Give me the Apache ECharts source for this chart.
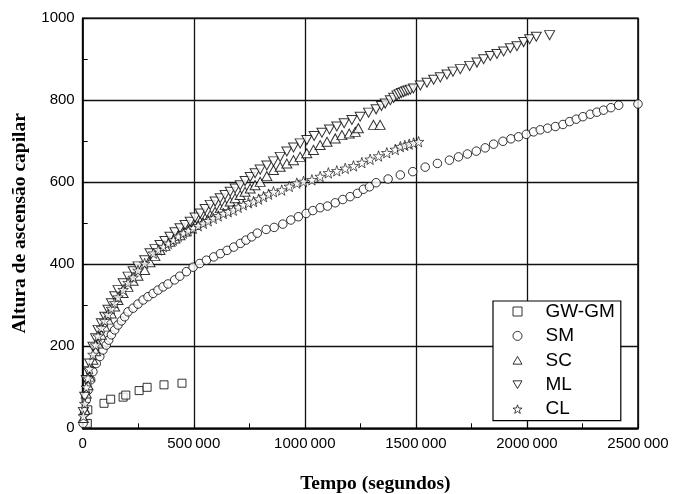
<!DOCTYPE html>
<html>
<head>
<meta charset="utf-8">
<script src="https://cdn.jsdelivr.net/npm/echarts@6/dist/echarts.min.js"></script>
<style>
html,body{margin:0;padding:0;background:#fff;}
#chart{width:673px;height:494px;}
</style>
</head>
<body>
<div id="chart"></div>
<script>
// ---- data: [tempo (s), altura] ----
const seriesNames = ['GW-GM', 'SM', 'SC', 'ML', 'CL'];
const xTicks = [0, 500000, 1000000, 1500000, 2000000, 2500000];
const yTicks = [0, 200, 400, 600, 800, 1000];

const gwgm = [[15000,10],[21000,12],[23000,45],[96000,61],[126000,71],[182000,76],[194000,81],[254000,92],[290000,100],[366000,106],[447000,110]];

const sm = [[2000,12],[9000,37],[16000,69],[24000,93],[36000,118],[46000,138],[61000,158],[77000,175],[91000,191],[106000,203],[117000,215],[129000,228],[144000,240],[159000,252],[174000,262],[189000,272],[204000,284],[227000,293],[249000,303],[272000,313],[294000,321],[317000,329],[339000,337],[362000,345],[384000,352],[414000,362],[437000,371],[467000,382],[497000,393],[527000,402],[557000,410],[590000,418],[620000,426],[650000,434],[680000,442],[710000,451],[735000,459],[761000,467],[786000,476],[826000,485],[862000,490],[901000,498],[937000,508],[971000,516],[1006000,524],[1036000,531],[1069000,538],[1102000,542],[1137000,550],[1171000,558],[1204000,565],[1237000,573],[1264000,583],[1291000,589],[1321000,599],[1375000,608],[1430000,618],[1486000,626],[1542000,637],[1597000,646],[1651000,654],[1692000,662],[1732000,669],[1772000,676],[1812000,684],[1850000,693],[1892000,700],[1928000,706],[1962000,711],[1997000,717],[2030000,723],[2060000,728],[2093000,732],[2128000,736],[2162000,741],[2192000,748],[2222000,754],[2252000,760],[2285000,766],[2315000,771],[2345000,776],[2378000,782],[2413000,788],[2500000,791]];

const sc = [[3000,25],[9000,45],[16000,85],[24000,105],[31000,126],[46000,167],[58000,188],[69000,207],[84000,228],[99000,248],[114000,265],[129000,280],[144000,297],[159000,313],[182000,330],[204000,345],[227000,360],[249000,372],[279000,386],[303000,405],[325000,420],[348000,435],[370000,445],[393000,455],[415000,463],[438000,471],[461000,480],[484000,488],[506000,496],[529000,504],[551000,512],[574000,520],[596000,528],[619000,537],[641000,545],[664000,553],[686000,561],[709000,569],[731000,577],[754000,585],[776000,593],[799000,601],[829000,615],[859000,630],[889000,638],[919000,646],[949000,654],[979000,662],[1009000,671],[1039000,679],[1069000,691],[1100000,699],[1137000,707],[1167000,715],[1200000,719],[1227000,723],[1241000,732],[1309000,740],[1339000,740]];

const ml = [[3000,40],[9000,77],[16000,118],[24000,140],[31000,158],[46000,199],[58000,220],[69000,240],[84000,256],[99000,272],[114000,289],[129000,305],[144000,322],[159000,337],[182000,354],[204000,370],[227000,383],[249000,395],[279000,410],[303000,427],[325000,437],[348000,447],[370000,457],[393000,467],[415000,478],[438000,488],[461000,496],[484000,504],[506000,514],[529000,524],[551000,535],[574000,545],[596000,553],[619000,561],[641000,569],[664000,577],[686000,585],[709000,593],[731000,603],[754000,613],[776000,622],[799000,631],[829000,641],[859000,651],[889000,662],[919000,675],[949000,685],[979000,695],[1009000,703],[1042000,713],[1077000,721],[1111000,729],[1144000,736],[1177000,744],[1212000,752],[1249000,760],[1287000,770],[1321000,778],[1345000,786],[1362000,792],[1385000,800],[1400000,806],[1415000,812],[1425000,815],[1435000,818],[1445000,820],[1455000,822],[1465000,824],[1475000,826],[1489000,829],[1520000,836],[1550000,843],[1580000,850],[1610000,856],[1640000,863],[1667000,870],[1700000,876],[1742000,884],[1775000,892],[1805000,900],[1835000,908],[1865000,913],[1895000,919],[1925000,927],[1955000,932],[1985000,942],[2012000,949],[2042000,955],[2102000,959]];

const cl = [[3000,30],[9000,60],[16000,100],[24000,122],[31000,145],[46000,180],[58000,203],[69000,225],[84000,245],[99000,262],[114000,278],[129000,292],[144000,306],[159000,320],[182000,338],[204000,355],[227000,368],[249000,385],[279000,402],[318000,427],[340000,435],[363000,443],[385000,451],[408000,459],[430000,468],[453000,476],[475000,482],[498000,488],[520000,494],[543000,500],[565000,506],[588000,512],[610000,518],[633000,524],[655000,528],[678000,532],[700000,539],[723000,545],[746000,550],[769000,553],[792000,559],[814000,565],[837000,571],[859000,577],[896000,581],[930000,590],[964000,598],[994000,602],[1032000,606],[1069000,614],[1106000,623],[1144000,628],[1182000,634],[1219000,640],[1257000,648],[1294000,656],[1332000,664],[1369000,672],[1407000,680],[1430000,687],[1450000,690],[1470000,693],[1490000,696],[1512000,699]];

// ---- rendering ----
const STAR = 'path://M0,-10L2.35,-3.24L9.51,-3.09L3.8,1.24L5.88,8.09L0,4L-5.88,8.09L-3.8,1.24L-9.51,-3.09L-2.35,-3.24Z';
const TRI_DOWN = 'path://M-5,-4.3L5,-4.3L0,4.3Z';
const TRI_UP = 'path://M-5,4.3L5,4.3L0,-4.3Z';
const markerStyle = {color: '#fff', borderColor: '#000', borderWidth: 1};
const legendIconStyle = {color: '#fff', borderColor: '#000', borderWidth: 1};

function mk(name, data, symbol, size) {
  return {
    name: name, type: 'scatter', data: data,
    symbol: symbol, symbolSize: size,
    itemStyle: markerStyle, animation: false
  };
}

const chart = echarts.init(document.getElementById('chart'));
const axisFont = {fontFamily: 'Liberation Sans', fontSize: 15, color: '#000'};
const titleFont = {fontFamily: 'Liberation Serif', fontWeight: 'bold', fontSize: 19.5, color: '#000'};

chart.setOption({
  backgroundColor: '#fff',
  animation: false,
  grid: {left: 82.7, right: 35, top: 18.3, bottom: 65.7, show: true, borderColor: '#000', borderWidth: 1.5, containLabel: false, outerBoundsMode: 'none'},
  xAxis: {
    type: 'value', min: xTicks[0], max: xTicks[xTicks.length - 1], interval: 500000,
    name: 'Tempo (segundos)', nameLocation: 'middle', nameGap: 46, nameTextStyle: Object.assign({padding: [0, 0, 0, 30]}, titleFont),
    axisLine: {show: true, lineStyle: {color: '#000', width: 1.5}},
    axisTick: {show: true, inside: true, length: 5, lineStyle: {color: '#000'}},
    minorTick: {show: true, splitNumber: 2, length: 5, lineStyle: {color: '#000', width: 1}},
    splitLine: {show: true, lineStyle: {color: '#111', width: 1.3}},
    axisLabel: Object.assign({margin: 8, formatter: function (v) {
      const s = String(v);
      return s.length > 3 ? s.slice(0, s.length - 3) + '\u2009' + s.slice(s.length - 3) : s;
    }}, axisFont)
  },
  yAxis: {
    type: 'value', min: yTicks[0], max: yTicks[yTicks.length - 1], interval: 200,
    name: 'Altura de ascensão capilar', nameLocation: 'middle', nameGap: 49, nameTextStyle: titleFont,
    axisLine: {show: true, lineStyle: {color: '#000', width: 1.5}},
    axisTick: {show: true, inside: true, length: 5, lineStyle: {color: '#000'}},
    minorTick: {show: true, splitNumber: 2, length: 5, lineStyle: {color: '#000', width: 1}},
    splitLine: {show: true, lineStyle: {color: '#111', width: 1.3}},
    axisLabel: Object.assign({margin: 8, formatter: function (v) { return String(v); }}, axisFont)
  },
  legend: {
    show: true, orient: 'vertical', left: 493, top: 301,
    padding: [1, 6, 2, 19.5], itemGap: 5.4, itemWidth: 9, itemHeight: 9,
    backgroundColor: '#fff', borderColor: '#000', borderWidth: 1.2, borderRadius: 0,
    textStyle: {fontFamily: 'Liberation Sans', fontSize: 19, lineHeight: 19, color: '#000', padding: [0, 0, 0, 18.5]},
    data: [
      {name: seriesNames[0], icon: 'rect', itemStyle: legendIconStyle},
      {name: seriesNames[1], icon: 'circle', itemStyle: legendIconStyle},
      {name: seriesNames[2], icon: TRI_UP, itemStyle: legendIconStyle},
      {name: seriesNames[3], icon: TRI_DOWN, itemStyle: legendIconStyle},
      {name: seriesNames[4], icon: STAR, itemStyle: {color: '#fff', borderColor: '#000', borderWidth: 0.9}}
    ]
  },
  series: [
    mk(seriesNames[0], gwgm, 'rect', 8),
    mk(seriesNames[1], sm, 'circle', 8.5),
    mk(seriesNames[2], sc, TRI_UP, [10, 9]),
    mk(seriesNames[3], ml, TRI_DOWN, [10, 9]),
    Object.assign(mk(seriesNames[4], cl, STAR, 10.5), {itemStyle: {color: '#fff', borderColor: '#000', borderWidth: 0.8}})
  ]
});
</script>
</body>
</html>
